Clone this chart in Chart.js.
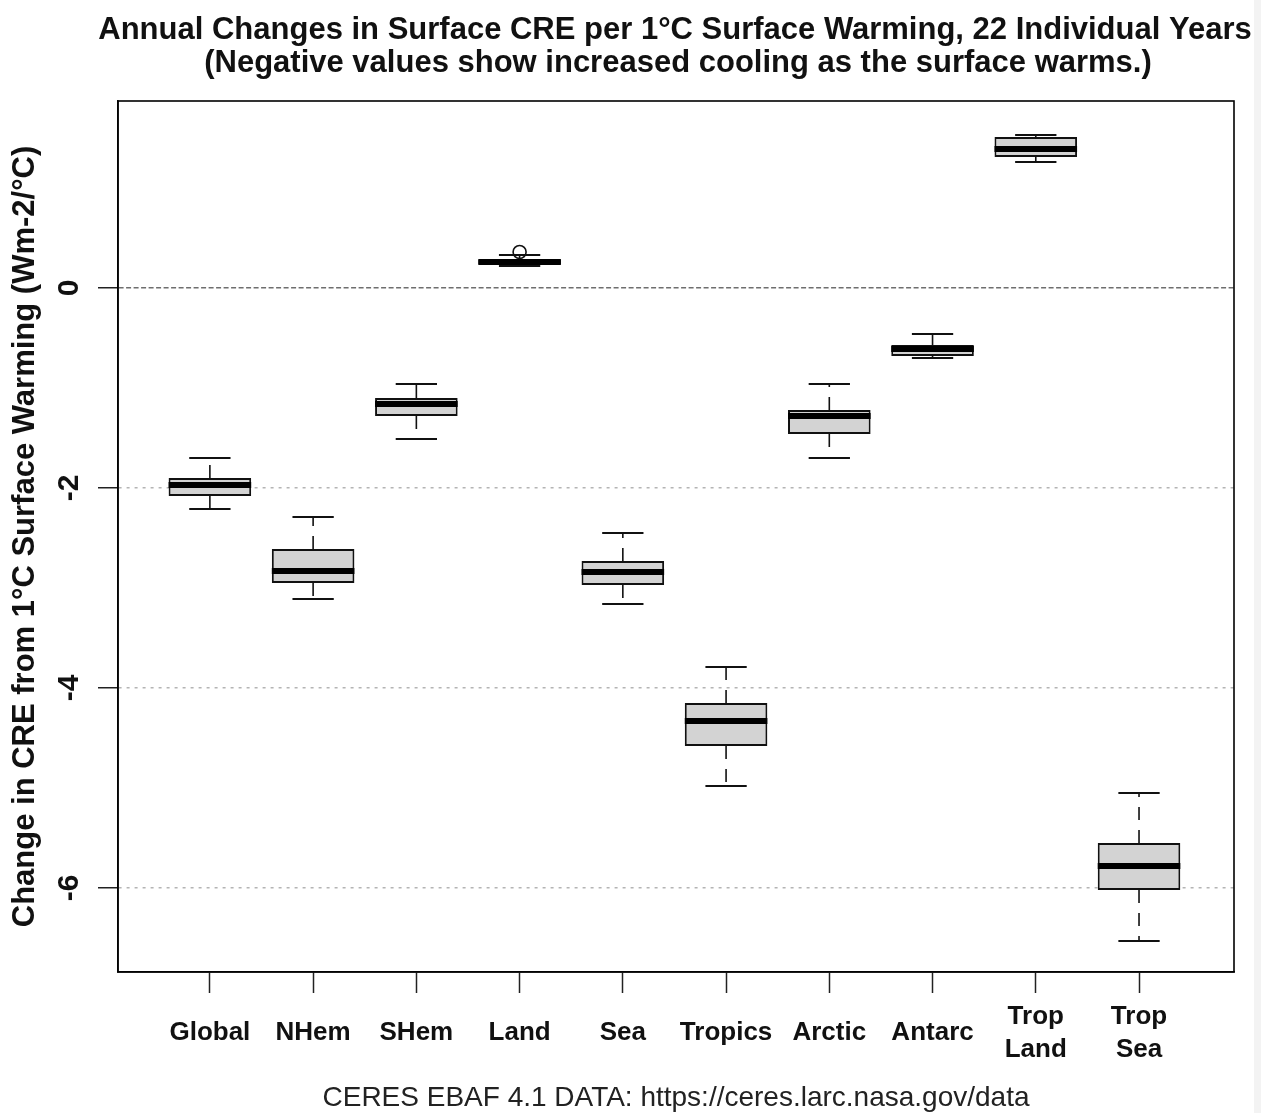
<!DOCTYPE html>
<html>
<head>
<meta charset="utf-8">
<script src="https://cdn.jsdelivr.net/npm/chart.js@4.4.1/dist/chart.umd.min.js"></script>
<style>
  html, body { margin: 0; padding: 0; background: #fff; }
  #wrap { width: 1261px; height: 1113px; position: relative; }
</style>
</head>
<body>
<div id="wrap"><canvas id="cv" width="1261" height="1113"></canvas></div>
<script>
// Regions (tick labels, some on two lines)
const categories = ['Global', 'NHem', 'SHem', 'Land', 'Sea', 'Tropics', 'Arctic', 'Antarc', ['Trop', 'Land'], ['Trop', 'Sea']];

// Box statistics (Wm-2/°C)
const whiskerLow = [-2.21, -3.11, -1.51, 0.22, -3.16, -4.98, -1.70, -0.70, 1.26, -6.53];
const quartile1  = [-2.08, -2.95, -1.28, 0.24, -2.97, -4.58, -1.46, -0.68, 1.31, -6.02];
const medians    = [-1.97, -2.83, -1.16, 0.26, -2.84, -4.33, -1.28, -0.61, 1.39, -5.78];
const quartile3  = [-1.90, -2.61, -1.10, 0.28, -2.73, -4.15, -1.22, -0.57, 1.51, -5.55];
const whiskerHigh = [-1.70, -2.29, -0.96, 0.33, -2.45, -3.79, -0.96, -0.46, 1.53, -5.05];

// Outliers: [category index (1-based), value]
const outliers = [[4, 0.36]];

const yTicks = [-6, -4, -2, 0];

const titleLines = [
    'Annual Changes in Surface CRE per 1°C Surface Warming, 22 Individual Years',
    '(Negative values show increased cooling as the surface warms.)'
];
const yTitle = 'Change in CRE from 1°C Surface Warming (Wm-2/°C)';
const footer = 'CERES EBAF 4.1 DATA: https://ceres.larc.nasa.gov/data';

const FONT = '"Liberation Sans", Arial, Helvetica, sans-serif';
const HALF_BOX = 0.4, HALF_CAP = 0.2;

// build segment lists (null y breaks the line)
function segs(pairsFn) {
    const out = [];
    categories.forEach((c, i) => {
        pairsFn(i + 1, i).forEach(p => out.push(p));
        out.push({ x: i + 1, y: null });
    });
    return out;
}

const boxData = categories.map((c, i) => ({ x: i + 1, y: [quartile1[i], quartile3[i]] }));
const medData = segs((x, i) => [{ x: x - HALF_BOX, y: medians[i] }, { x: x + HALF_BOX, y: medians[i] }]);
const upWhisk = segs((x, i) => [{ x: x, y: quartile3[i] }, { x: x, y: whiskerHigh[i] }]);
const loWhisk = segs((x, i) => [{ x: x, y: quartile1[i] }, { x: x, y: whiskerLow[i] }]);
const capData = segs((x, i) => [
    { x: x - HALF_CAP, y: whiskerHigh[i] }, { x: x + HALF_CAP, y: whiskerHigh[i] }, { x: x, y: null },
    { x: x - HALF_CAP, y: whiskerLow[i] }, { x: x + HALF_CAP, y: whiskerLow[i] }
]);
const outData = outliers.map(o => ({ x: o[0], y: o[1] }));

// texts drawn in canvas: title, rotated y tick labels, footer, frame
const decor = {
    id: 'decor',
    beforeDraw(chart) {
        const ctx = chart.ctx;
        ctx.save();
        ctx.fillStyle = '#fff';
        ctx.fillRect(0, 0, chart.width, chart.height);
        ctx.fillStyle = '#f3f3f3';
        ctx.fillRect(1254, 0, chart.width - 1254, chart.height);
        ctx.restore();
    },
    afterDraw(chart) {
        const ctx = chart.ctx;
        const a = chart.chartArea;
        const ys = chart.scales.y;
        ctx.save();
        ctx.strokeStyle = '#000';
        ctx.lineWidth = 1.6;
        ctx.strokeRect(a.left, a.top, a.right - a.left, a.bottom - a.top);

        ctx.fillStyle = '#111';
        ctx.textAlign = 'center';
        ctx.textBaseline = 'middle';
        ctx.font = 'bold 31px ' + FONT;
        ctx.fillText(titleLines[0], 675, 30);
        ctx.fillText(titleLines[1], 678, 63);

        ctx.font = 'bold 30px ' + FONT;
        yTicks.forEach(v => {
            ctx.save();
            ctx.translate(70, ys.getPixelForValue(v));
            ctx.rotate(-Math.PI / 2);
            ctx.fillText(String(v), 0, 0);
            ctx.restore();
        });

        ctx.font = '28px ' + FONT;
        ctx.fillStyle = '#222';
        ctx.fillText(footer, 676, 1098);
        ctx.restore();
    }
};

new Chart(document.getElementById('cv'), {
    type: 'line',
    data: {
        datasets: [
            {
                type: 'bar', data: boxData, order: 3,
                backgroundColor: '#d3d3d3', borderColor: '#111', borderWidth: 2,
                borderSkipped: false, barPercentage: 0.8, categoryPercentage: 1, grouped: false
            },
            {
                data: upWhisk, order: 2, borderColor: '#111', borderWidth: 1.6,
                borderDash: [13, 10], pointRadius: 0, spanGaps: false, tension: 0
            },
            {
                data: loWhisk, order: 2, borderColor: '#111', borderWidth: 1.6,
                borderDash: [13, 10], pointRadius: 0, spanGaps: false, tension: 0
            },
            {
                data: capData, order: 2, borderColor: '#111', borderWidth: 1.8,
                pointRadius: 0, spanGaps: false, tension: 0
            },
            {
                data: medData, order: 1, borderColor: '#000', borderWidth: 6,
                borderCapStyle: 'butt', pointRadius: 0, spanGaps: false, tension: 0
            },
            {
                type: 'scatter', data: outData, order: 0,
                pointStyle: 'circle', pointRadius: 6.5, borderColor: '#111',
                backgroundColor: 'rgba(0,0,0,0)', borderWidth: 1.6
            }
        ]
    },
    options: {
        responsive: false,
        animation: false,
        devicePixelRatio: 1,
        layout: { padding: { top: 101, right: 27, left: 0, bottom: 0 } },
        plugins: { legend: { display: false }, tooltip: { enabled: false } },
        scales: {
            x: {
                type: 'linear', min: 0.11, max: 10.92, offset: false,
                afterBuildTicks: s => { s.ticks = categories.map((c, i) => ({ value: i + 1 })); },
                afterFit: s => { s.height = 141; },
                grid: { offset: false, drawOnChartArea: false, drawTicks: true, tickLength: 21, tickColor: '#222', tickWidth: 1.5 },
                border: { display: true, color: '#111', width: 1.6 },
                ticks: {
                    autoSkip: false, maxRotation: 0, minRotation: 0, padding: 24,
                    crossAlign: 'center', color: '#111',
                    font: { family: FONT, size: 26, weight: 'bold', lineHeight: 1.25 },
                    callback: v => categories[Math.round(v) - 1]
                }
            },
            y: {
                type: 'linear', min: -6.84, max: 1.87,
                afterBuildTicks: s => { s.ticks = yTicks.map(v => ({ value: v })); },
                afterFit: s => { s.width = 118; },
                grid: {
                    drawOnChartArea: true, drawTicks: true, tickLength: 20, tickWidth: 1.5, tickColor: '#222',
                    tickBorderDash: [],
                    color: c => (c.tick && c.tick.value === 0) ? '#6e6e6e' : '#b4b4b4',
                    lineWidth: 1.5
                },
                border: {
                    display: true, color: '#111', width: 1.6,
                    dash: c => (c.tick && c.tick.value === 0) ? [5, 2.5] : [3, 5]
                },
                ticks: { display: false },
                title: {
                    display: true, text: yTitle, color: '#111',
                    font: { family: FONT, size: 31, weight: 'bold' },
                    padding: { top: 7, bottom: 0 }
                }
            }
        }
    },
    plugins: [decor]
});
</script>
</body>
</html>
